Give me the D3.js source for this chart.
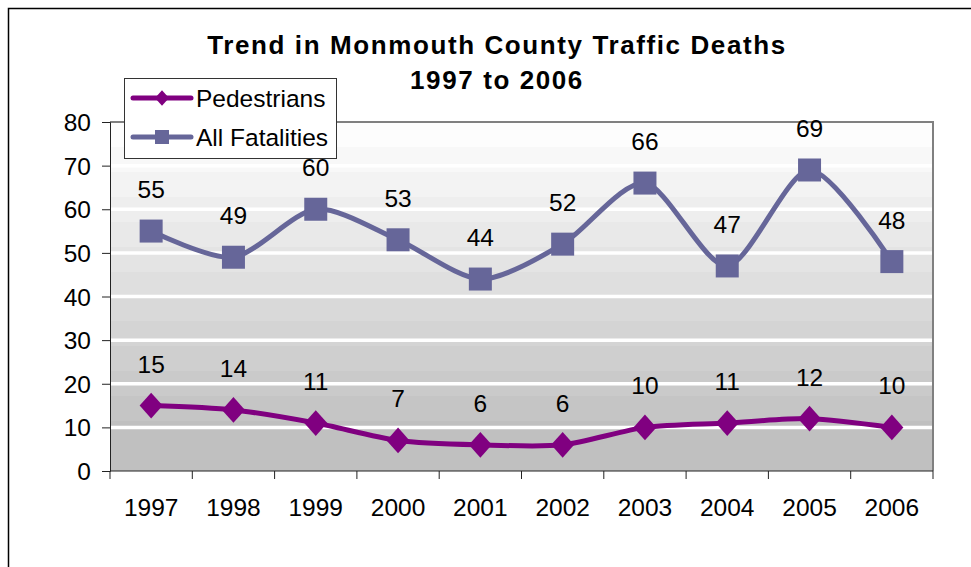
<!DOCTYPE html>
<html>
<head>
<meta charset="utf-8">
<script src="https://cdn.jsdelivr.net/npm/d3@7"></script>
<style>
body { margin: 0; background: #fff; }
svg text { font-family: "Liberation Sans", Arial, sans-serif; fill: #000; }
</style>
</head>
<body>
<div class="chart"></div>
<script>
// values
var years = ['1997','1998','1999','2000','2001','2002','2003','2004','2005','2006'];
var pedestrians = [15, 14, 11, 7, 6, 6, 10, 11, 12, 10];
var allFatalities = [55, 49, 60, 53, 44, 52, 66, 47, 69, 48];
var yTicks = [0, 10, 20, 30, 40, 50, 60, 70, 80];

var W = 971, H = 567;
var plotL = 110, plotR = 933, plotT = 122, plotB = 471;
var fs = '24.5px';

var svg = d3.select('div.chart')
  .append('svg')
  .attr('width', W)
  .attr('height', H);

// outer frame (runs off the right and bottom)
svg.append('path')
  .attr('d', 'M8.5,' + (H + 5) + 'V8.5H' + (W + 5))
  .attr('fill', 'none')
  .attr('stroke', '#000')
  .attr('stroke-width', 1.5);

var x = d3.scaleBand()
  .domain(years)
  .range([plotL, plotR])
  .padding(0);

var y = d3.scaleLinear()
  .domain([0, 80])
  .range([plotB, plotT]);

// stepped grey gradient behind the plot
var defs = svg.append('defs');
var grad = defs.append('linearGradient')
  .attr('id', 'bg')
  .attr('x1', 0).attr('y1', 0).attr('x2', 0).attr('y2', 1);
var steps = 14;
for (var i = 0; i < steps; i++) {
  var c = d3.interpolateRgb('#fdfdfd', '#c0c0c0')(Math.min(1, i / (steps - 2)));
  grad.append('stop').attr('offset', i / steps).attr('stop-color', c);
  grad.append('stop').attr('offset', (i + 1) / steps).attr('stop-color', c);
}

svg.append('rect')
  .attr('x', plotL)
  .attr('y', plotT)
  .attr('width', plotR - plotL)
  .attr('height', plotB - plotT)
  .attr('fill', 'url(#bg)');

// white gridlines
svg.selectAll('.grid')
  .data(yTicks.filter(function(d){ return d > 0 && d < 80; }))
  .enter()
  .append('line')
  .attr('class', 'grid')
  .attr('x1', plotL)
  .attr('x2', plotR)
  .attr('y1', function(d){ return y(d); })
  .attr('y2', function(d){ return y(d); })
  .attr('stroke', '#fff')
  .attr('stroke-width', 3.5);

// plot border top / right
svg.append('path')
  .attr('d', 'M' + plotL + ',' + plotT + 'H' + plotR + 'V' + plotB)
  .attr('fill', 'none')
  .attr('stroke', '#808080')
  .attr('stroke-width', 2);

// y axis
var yAxis = d3.axisLeft(y)
  .tickValues(yTicks)
  .tickSize(8)
  .tickPadding(11);

var gy = svg.append('g')
  .attr('class', 'y-axis')
  .attr('transform', 'translate(' + plotL + ',0)')
  .call(yAxis);
gy.select('.domain').attr('stroke', '#222');
gy.selectAll('.tick line').attr('stroke', '#222');
gy.selectAll('.tick text')
  .style('font-size', fs)
  .attr('dy', '0.35em');

// x axis, ticks on category boundaries
var gx = svg.append('g')
  .attr('class', 'x-axis')
  .attr('transform', 'translate(0,' + plotB + ')');
gx.append('line')
  .attr('x1', plotL).attr('x2', plotR)
  .attr('stroke', '#222');
gx.selectAll('.bt')
  .data(d3.range(years.length + 1))
  .enter()
  .append('line')
  .attr('class', 'bt')
  .attr('x1', function(d){ return plotL + d * x.bandwidth(); })
  .attr('x2', function(d){ return plotL + d * x.bandwidth(); })
  .attr('y1', 0)
  .attr('y2', 8)
  .attr('stroke', '#222');
gx.selectAll('.yl')
  .data(years)
  .enter()
  .append('text')
  .attr('class', 'yl')
  .attr('x', function(d){ return x(d) + x.bandwidth() / 2; })
  .attr('y', 45)
  .attr('text-anchor', 'middle')
  .style('font-size', fs)
  .text(function(d){ return d; });

var cx = function(d, i){ return x(years[i]) + x.bandwidth() / 2; };

var line = d3.line()
  .x(cx)
  .y(function(d){ return y(d); })
  .curve(d3.curveCardinal.tension(0.2));

var series = [
  { name: 'All Fatalities', values: allFatalities, color: '#666699', shape: 'square' },
  { name: 'Pedestrians', values: pedestrians, color: '#800080', shape: 'diamond' }
];

function marker(shape, s) {
  if (shape === 'square') {
    return 'M' + (-s) + ',' + (-s) + 'H' + s + 'V' + s + 'H' + (-s) + 'Z';
  }
  var h = s * 1.12;
  return 'M0,' + (-h) + 'L' + s + ',0L0,' + h + 'L' + (-s) + ',0Z';
}

series.forEach(function(s){
  svg.append('path')
    .datum(s.values)
    .attr('class', 'line')
    .attr('d', line)
    .attr('fill', 'none')
    .attr('stroke', s.color)
    .attr('stroke-width', 5)
    .attr('stroke-linejoin', 'round');

  svg.selectAll('.m-' + s.shape)
    .data(s.values)
    .enter()
    .append('path')
    .attr('class', 'm-' + s.shape)
    .attr('transform', function(d, i){ return 'translate(' + cx(d, i) + ',' + y(d) + ')'; })
    .attr('d', marker(s.shape, 11.5))
    .attr('fill', s.color);

  svg.selectAll('.lab-' + s.shape)
    .data(s.values)
    .enter()
    .append('text')
    .attr('class', 'lab-' + s.shape)
    .attr('x', cx)
    .attr('y', function(d){ return y(d) - 33; })
    .attr('text-anchor', 'middle')
    .style('font-size', fs)
    .text(function(d){ return d; });
});

// title
svg.append('text')
  .attr('x', 497)
  .attr('y', 54)
  .attr('text-anchor', 'middle')
  .style('font-size', '26px')
  .style('font-weight', 'bold')
  .style('letter-spacing', '1.6px')
  .text('Trend in Monmouth County Traffic Deaths');
svg.append('text')
  .attr('x', 497)
  .attr('y', 89)
  .attr('text-anchor', 'middle')
  .style('font-size', '26px')
  .style('font-weight', 'bold')
  .style('letter-spacing', '1.6px')
  .text('1997 to 2006');

// legend
var lg = svg.append('g').attr('class', 'legend');
lg.append('rect')
  .attr('x', 124.5)
  .attr('y', 78.5)
  .attr('width', 212)
  .attr('height', 80)
  .attr('fill', '#fff')
  .attr('stroke', '#333')
  .attr('stroke-width', 1);

var legendItems = [series[1], series[0]];
legendItems.forEach(function(s, i){
  var ly = 98 + i * 39;
  lg.append('line')
    .attr('x1', 133).attr('x2', 191)
    .attr('y1', ly).attr('y2', ly)
    .attr('stroke', s.color)
    .attr('stroke-width', 5)
    .attr('stroke-linecap', 'round');
  lg.append('path')
    .attr('transform', 'translate(162,' + ly + ')')
    .attr('d', marker(s.shape, 7))
    .attr('fill', s.color);
  lg.append('text')
    .attr('x', 196)
    .attr('y', ly + 9)
    .style('font-size', fs)
    .text(s.name);
});
</script>
</body>
</html>
